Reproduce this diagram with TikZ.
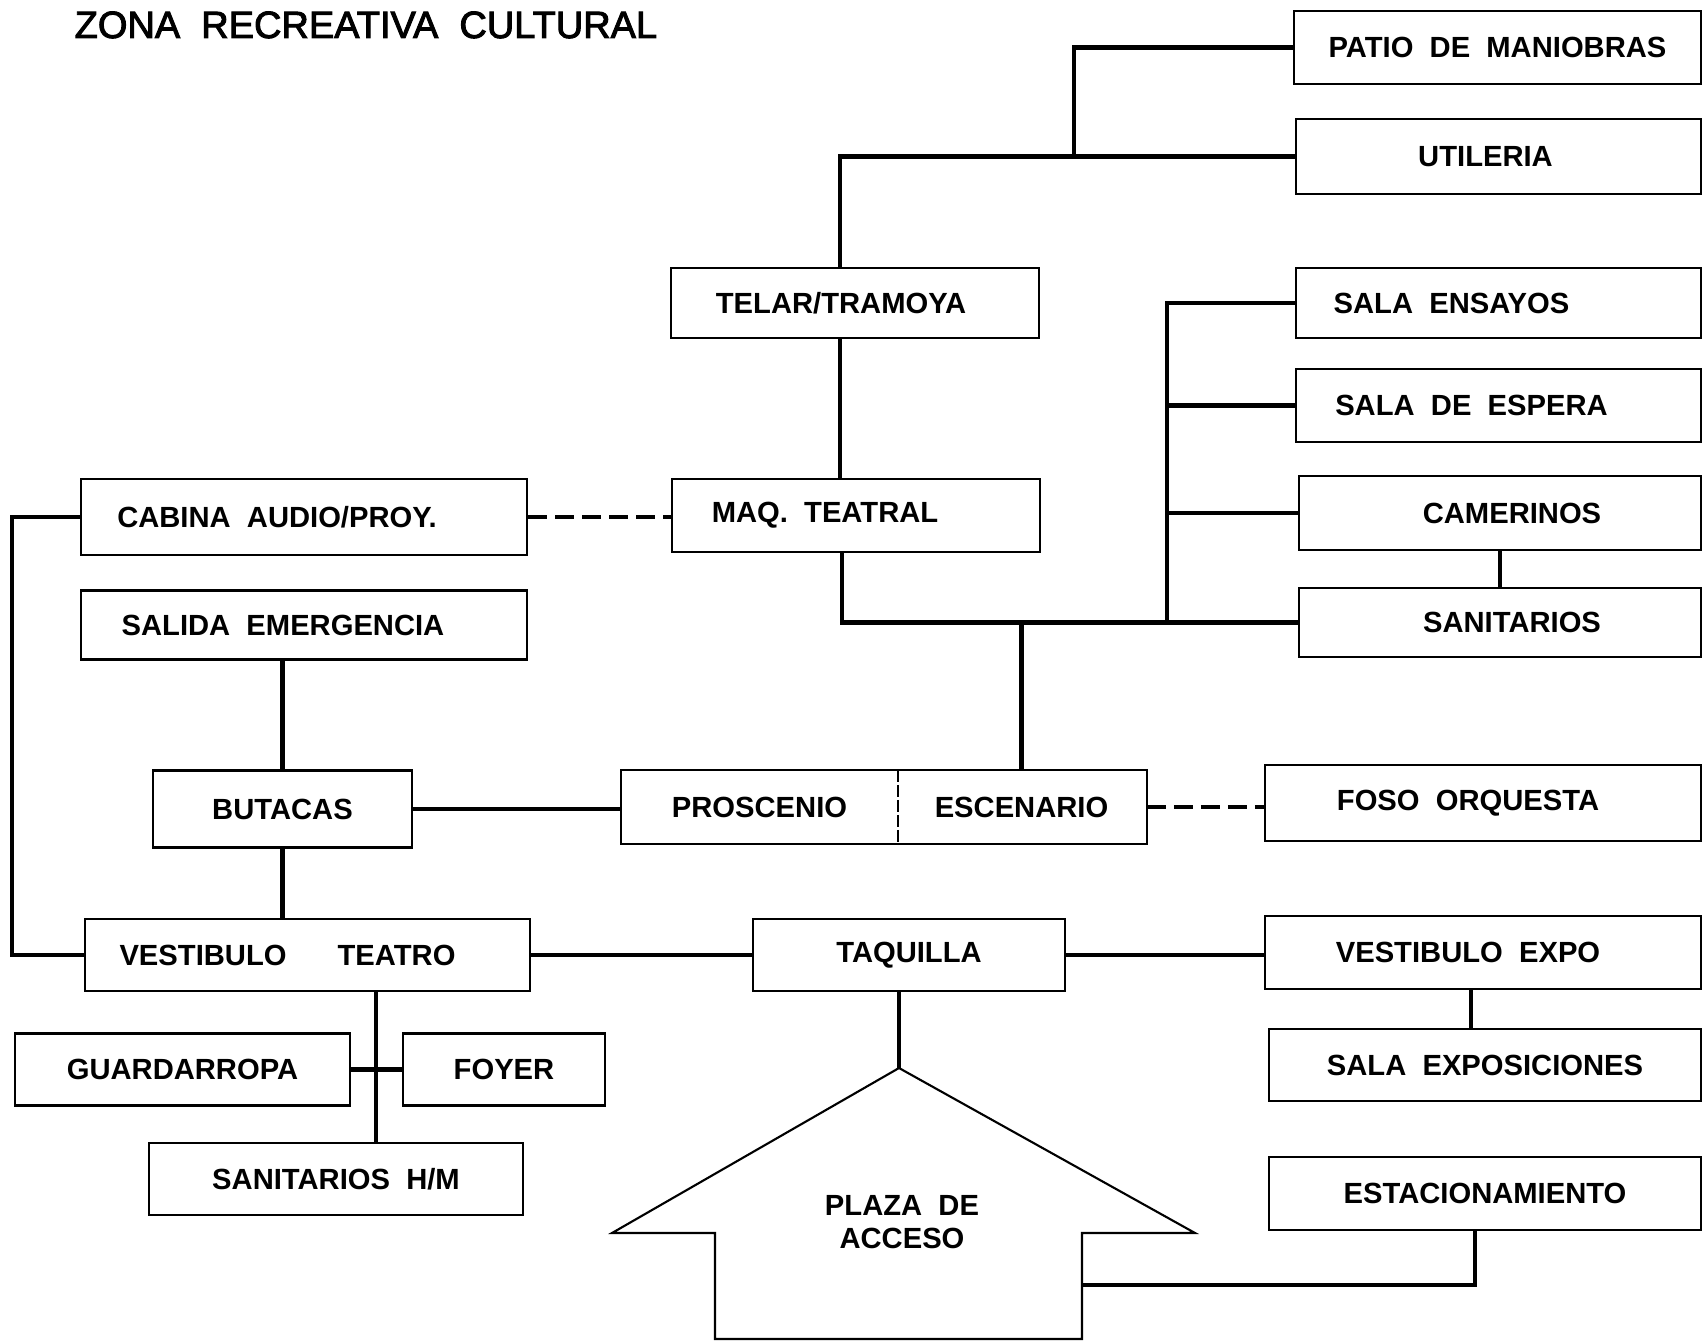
\documentclass[tikz,border=0pt]{standalone}
\usepackage{fontspec}
\setmainfont{Liberation Sans}[WordSpace=2]
\newfontfamily\titlefont{Liberation Sans}[WordSpace=2, FakeBold=2.5]

\begin{document}
\begin{tikzpicture}[%
      x=0.01cm, y=-0.01cm,
      every node/.style={inner sep=0pt,
                         font={\fontsize{8.3}{9.4}\selectfont\bfseries}},
      box/.style={draw, line width=0.6pt, minimum width=#1, minimum height=0.72cm},
      link/.style={line width=1.2pt},
      weak/.style={line width=1.1pt, dash pattern=on 0.19cm off 0.08cm},
      split/.style={line width=0.5pt, dash pattern=on 0.12cm off 0.03cm}
    ]
    \useasboundingbox (0,0) rectangle (1704,1343);
    \node [anchor=base west, font={\fontsize{10.8}{12}\selectfont\titlefont}] (title) at (74,38)
     {ZONA RECREATIVA CULTURAL};

    \node [box=4.07cm, minimum height=0.73cm] (patio) at (1497.5,47.5) {PATIO DE MANIOBRAS};
    \node [box=4.05cm, minimum height=0.75cm] (utileria) at (1498.5,156.5) {UTILERIA\hspace*{0.26cm}};
    \node [box=3.67cm, minimum height=0.70cm] (telar) at (855,303) {TELAR/TRAMOYA\hspace*{0.28cm}};
    \node [box=4.05cm, minimum height=0.70cm] (ensayos) at (1498.5,303) {SALA ENSAYOS\hspace*{0.94cm}};
    \node [box=4.05cm, minimum height=0.73cm] (espera) at (1498.5,405.5) {SALA DE ESPERA\hspace*{0.54cm}};
    \node [box=4.02cm, minimum height=0.74cm] (camerinos) at (1500,513) {\hspace*{0.24cm}CAMERINOS};
    \node [box=4.02cm, minimum height=0.69cm] (sanitarios) at (1500,622.5) {\hspace*{0.24cm}SANITARIOS};
    \node [box=4.46cm, minimum height=0.76cm] (cabina) at (304,517) {CABINA AUDIO/PROY.\hspace*{0.54cm}};
    \node [box=3.67cm, minimum height=0.73cm] (maq) at (856,515.5) {MAQ. TEATRAL\hspace*{0.62cm}};
    \node [box=4.46cm, minimum height=0.69cm] (salida) at (304,625) {SALIDA EMERGENCIA\hspace*{0.42cm}};
    \node [box=2.59cm, minimum height=0.77cm] (butacas) at (282.5,809) {BUTACAS};
    \node [minimum width=2.75cm, minimum height=0.73cm] (proscenio) at (759.5,807) {PROSCENIO};
    \node [minimum width=2.49cm, minimum height=0.73cm] (escenario) at (1021.5,807) {ESCENARIO};
    \node [box=4.36cm, minimum height=0.76cm] (foso) at (1483,803) {FOSO ORQUESTA\hspace*{0.30cm}};
    \node [box=4.45cm] (vteatro) at (307.5,955) {VESTIBULO\hspace{1.75em}TEATRO\hspace*{0.40cm}};
    \node [box=3.12cm] (taquilla) at (909,955) {TAQUILLA};
    \node [box=4.36cm, minimum height=0.73cm] (vexpo) at (1483,952.5) {VESTIBULO EXPO\hspace*{0.30cm}};
    \node [box=3.35cm] (guardarropa) at (182.5,1069.5) {GUARDARROPA};
    \node [box=2.02cm] (foyer) at (504,1069.5) {FOYER};
    \node [box=4.32cm] (exposiciones) at (1485,1065) {SALA EXPOSICIONES};
    \node [box=3.74cm] (sanhm) at (336,1179) {SANITARIOS H/M};
    \node [box=4.32cm, minimum height=0.73cm] (estacionamiento) at (1485,1193.5) {ESTACIONAMIENTO};

    \draw [line width=0.6pt] (proscenio.north west) rectangle (escenario.south east);
    \draw [split] (proscenio.north east) -- (proscenio.south east);

    \coordinate (apex) at (899,1068);
    \coordinate (shaftr) at (1082,1285);
    \draw [line width=0.6pt] (apex) -- (612,1233) -- (715,1233) -- (715,1339)
     -- (1082,1339) -- (1082,1233) -- (1195,1233) -- cycle;
    \node [align=center] (plaza) at (902,1222) {PLAZA DE\\ACCESO};

    \draw [link] (patio.west) -- ++(-219,0) |- (utileria.west);
    \draw [link] (utileria.west) -| ([xshift=-0.15cm]telar.north);
    \draw [link] ([xshift=-0.15cm]telar.south) -- ([xshift=-0.15cm]telar.south |- maq.north);
    \draw [link] ([xshift=-0.14cm]maq.south) |- (sanitarios.west);
    \draw [link] (ensayos.west) -- ++(-128,0) |- (sanitarios.west);
    \draw [link] (espera.west) -- ++(-128,0);
    \draw [link] (camerinos.west) -- ++(-131,0);
    \draw [link] (camerinos.south) -- (sanitarios.north);
    \draw [link] (escenario.north) -- (escenario.north |- sanitarios.west);
    \draw [weak] (cabina.east) -- (cabina.east -| maq.west);
    \draw [weak] (escenario.east) -- (escenario.east -| foso.west);
    \draw [link] (salida.south -| butacas.north) -- (butacas.north);
    \draw [link] (butacas.east) -- (butacas.east -| proscenio.west);
    \draw [link] (butacas.south) -- (butacas.south |- vteatro.north);
    \draw [link] (cabina.west) -- ++(-68,0) |- (vteatro.west);
    \draw [link] (vteatro.east) -- (taquilla.west);
    \draw [link] (taquilla.east) -- (taquilla.east -| vexpo.west);
    \draw [link] ([xshift=-0.12cm]vexpo.south) -- ([xshift=-0.12cm]vexpo.south |- exposiciones.north);
    \draw [link] (taquilla.south -| apex) -- (apex);
    \draw [link] ([xshift=0.685cm]vteatro.south) -- ([xshift=0.685cm]vteatro.south |- sanhm.north);
    \draw [link] (guardarropa.east) -- (foyer.west);
    \draw [link] ([xshift=-0.1cm]estacionamiento.south) |- (shaftr);
   \end{tikzpicture}
\end{document}
